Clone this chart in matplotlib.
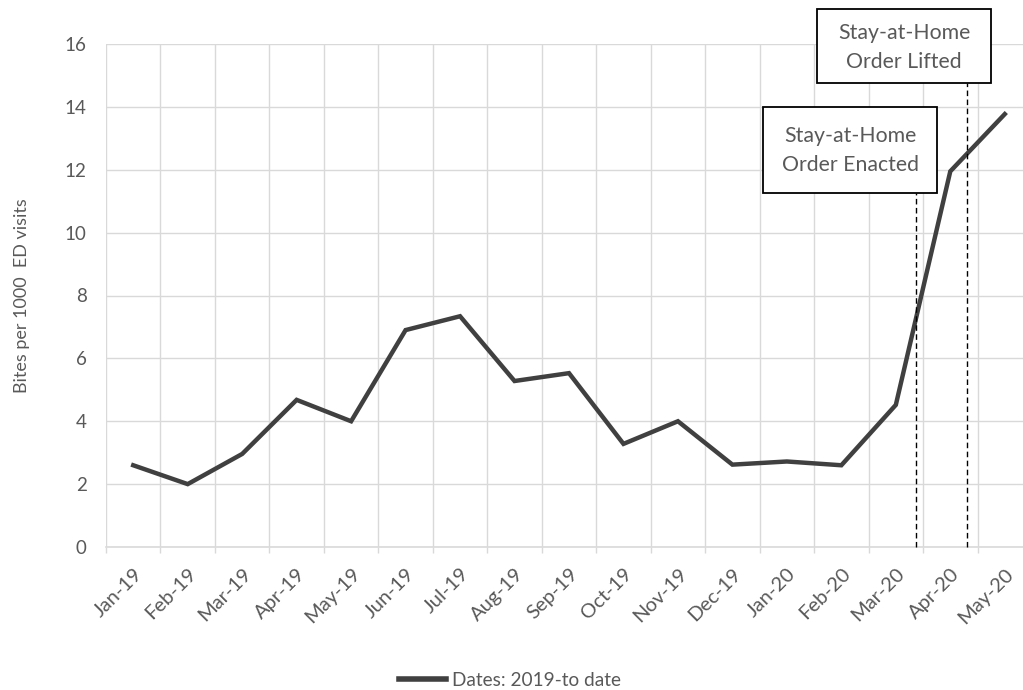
import numpy as np
import matplotlib
matplotlib.use("Agg")
from matplotlib import pyplot as plt
from matplotlib.lines import Line2D
from matplotlib.patches import Rectangle

months = ["Jan-19", "Feb-19", "Mar-19", "Apr-19", "May-19", "Jun-19", "Jul-19",
          "Aug-19", "Sep-19", "Oct-19", "Nov-19", "Dec-19", "Jan-20", "Feb-20",
          "Mar-20", "Apr-20", "May-20"]
bites = [2.6, 2.0, 2.96, 4.68, 4.0, 6.9, 7.34, 5.28, 5.53, 3.28, 4.0,
         2.62, 2.72, 2.6, 4.52, 11.95, 13.77]
series_label = "Dates: 2019-to date"
y_ticks = [0, 2, 4, 6, 8, 10, 12, 14, 16]

# event markers: position on category axis, label
event_pos = [14.37, 15.30]
event_text = ["Stay-at-Home\nOrder Enacted", "Stay-at-Home\nOrder Lifted"]

plt.rcParams['font.family'] = ['Lato', 'DejaVu Sans']
gray_txt = "#595959"
grid_c = "#d9d9d9"

fig = plt.figure(figsize=(10.23, 6.9), dpi=100)
ax = fig.add_axes([106 / 1023, 143 / 690, 926 / 1023, 503 / 690])

x = np.arange(len(months))
ax.plot(x, bites, color="#404040", lw=3.2, solid_joinstyle="miter", zorder=3)

ax.set_xlim(-0.5, len(months) - 0.5)
ax.set_ylim(0, 16)
ax.set_yticks(y_ticks)
ax.tick_params(axis="y", length=0, pad=14, labelsize=13.5, labelcolor=gray_txt)

# category boundaries carry the gridlines and tick marks, labels sit at centres
ax.set_xticks(np.arange(len(months) + 1) - 0.5)
ax.set_xticklabels([])
ax.tick_params(axis="x", which="major", length=4, width=1, color=grid_c, direction="out")
ax.set_xticks(x, minor=True)
ax.set_xticklabels(months, minor=True, rotation=45, ha="right", va="top",
                   rotation_mode="anchor")
ax.tick_params(axis="x", which="minor", length=0, pad=13, labelsize=14.5,
               labelcolor=gray_txt)

ax.grid(True, which="major", color=grid_c, lw=1, zorder=0)
for s in ["top", "right", "left"]:
    ax.spines[s].set_visible(False)
ax.spines["bottom"].set_color(grid_c)
ax.spines["bottom"].set_linewidth(1.2)

ax.set_ylabel("Bites per 1000  ED visits", fontsize=13, color=gray_txt, labelpad=25)

# dashed lines + boxed annotations (box: x0, x1, y0, y1 ; text centre)
boxes = [(11.57, 14.76, 11.26, 14.0), (12.56, 15.75, 14.76, 17.11)]
text_centres = [(13.16, 12.6), (14.15, 15.89)]
for pos, (bx0, bx1, by0, by1) in zip(event_pos, boxes):
    ax.plot([pos, pos], [0, by0], color="black", lw=1, ls=(0, (4, 2.5)), zorder=4,
            clip_on=False)
    ax.add_patch(Rectangle((bx0, by0), bx1 - bx0, by1 - by0, fc="white", ec="black",
                           lw=1.3, zorder=5, clip_on=False))
for (tx, ty), txt in zip(text_centres, event_text):
    ax.text(tx, ty, txt, ha="center", va="center", fontsize=15.3, color=gray_txt,
            linespacing=1.55, zorder=6, clip_on=False)

handle = Line2D([], [], color="#404040", lw=4)
fig.legend([handle], [series_label], loc="center", bbox_to_anchor=(510 / 1023, 10 / 690),
           frameon=False, fontsize=13.7, labelcolor=gray_txt, handlelength=2.5,
           handletextpad=0.3)

fig.savefig("out.png", dpi=100)
